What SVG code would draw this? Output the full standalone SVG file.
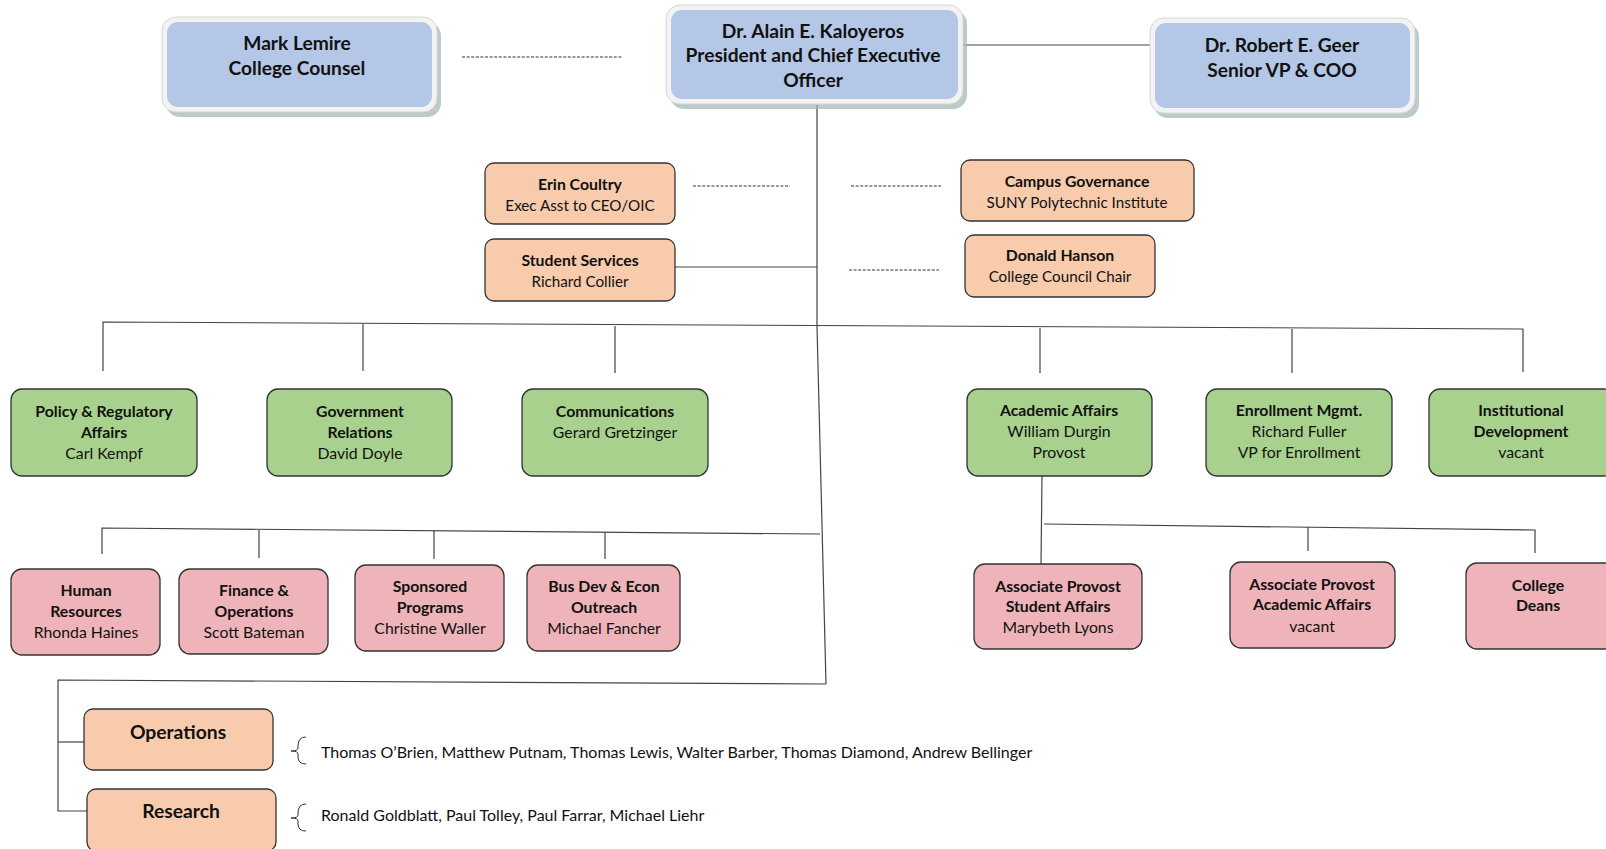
<svg xmlns="http://www.w3.org/2000/svg" width="1606" height="849" viewBox="0 0 1606 849">
<style>
text{font-family:Lato,"Open Sans","Liberation Sans",sans-serif;fill:#111;text-anchor:middle}
.b{font-weight:bold}
.t1{font-size:19.2px}
.t2{font-size:15.8px}
.t2o{font-size:15.2px}
.t3{font-size:16px;text-anchor:start}
.t4{font-size:19.3px}
.shadow{fill:#9fb4b4;opacity:.7}
.glow{fill:#f3f3f3;stroke:#d6d6d6;stroke-width:1}
.blue{fill:#b4c7e7}
.orange{fill:#f8cbad;stroke:#333;stroke-width:1.3}
.green{fill:#a9d18e;stroke:#333;stroke-width:1.3}
.pink{fill:#efb4b9;stroke:#333;stroke-width:1.3}
.ln{fill:none;stroke:#444;stroke-width:1.2}
.dash{fill:none;stroke:#333;stroke-width:1.1;stroke-dasharray:3 1.6}
.br{fill:none;stroke:#333;stroke-width:1}
</style>
<rect width="1606" height="849" fill="#fff"/>
<g id="connectors">
<line class="dash" x1="462" y1="57" x2="622" y2="57"/>
<line class="ln" x1="963" y1="45" x2="1151" y2="45"/>
<polyline class="ln" points="817,105 817,326 826,684"/>
<line class="dash" x1="693" y1="186" x2="790" y2="186"/>
<line class="dash" x1="851" y1="186" x2="941" y2="186"/>
<line class="ln" x1="675" y1="267" x2="817" y2="267"/>
<line class="dash" x1="849" y1="270" x2="939" y2="270"/>
<polyline class="ln" points="103,371 103,322 1523,329 1523,372"/>
<line class="ln" x1="363" y1="324" x2="363" y2="371"/>
<line class="ln" x1="615" y1="326" x2="615" y2="373"/>
<line class="ln" x1="1040" y1="328" x2="1040" y2="373"/>
<line class="ln" x1="1292" y1="329" x2="1292" y2="373"/>
<polyline class="ln" points="102,554 102,528 820,534"/>
<line class="ln" x1="259" y1="530" x2="259" y2="558"/>
<line class="ln" x1="434" y1="531" x2="434" y2="559"/>
<line class="ln" x1="605" y1="532" x2="605" y2="559"/>
<line class="ln" x1="1042" y1="476" x2="1041" y2="564"/>
<polyline class="ln" points="1044,524 1535,530 1535,553"/>
<line class="ln" x1="1308" y1="527" x2="1308" y2="551"/>
<polyline class="ln" points="826,684 58,680 58,811 87,811"/>
<line class="ln" x1="58" y1="742" x2="84" y2="742"/>
<path class="br" d="M306,737 Q298,737 298,746 L298,748 Q298,751 291,751 Q298,751 298,754 L298,757 Q298,764 306,764"/>
<path class="br" d="M306,804 Q298,804 298,813 L298,815 Q298,818 291,818 Q298,818 298,821 L298,824 Q298,831 306,831"/>
</g>
<g id="n-lemire">
<rect class="shadow" x="166" y="22" width="275" height="95" rx="14"/>
<rect class="glow" x="162" y="17" width="275" height="95" rx="14"/>
<rect class="blue" x="167" y="22" width="265" height="85" rx="11"/>
<text class="t1 b" x="297" y="50">Mark Lemire</text>
<text class="t1 b" x="297" y="75">College Counsel</text>
</g>
<g id="n-kaloyeros">
<rect class="shadow" x="670" y="10" width="297" height="99" rx="14"/>
<rect class="glow" x="666" y="5" width="297" height="99" rx="14"/>
<rect class="blue" x="671" y="10" width="287" height="89" rx="11"/>
<text class="t1 b" x="813" y="38">Dr. Alain E. Kaloyeros</text>
<text class="t1 b" x="813" y="62">President and Chief Executive</text>
<text class="t1 b" x="813" y="87">Officer</text>
</g>
<g id="n-geer">
<rect class="shadow" x="1154" y="23" width="265" height="95" rx="14"/>
<rect class="glow" x="1150" y="18" width="265" height="95" rx="14"/>
<rect class="blue" x="1155" y="23" width="255" height="85" rx="11"/>
<text class="t1 b" x="1282" y="52">Dr. Robert E. Geer</text>
<text class="t1 b" x="1282" y="77">Senior VP &amp; COO</text>
</g>
<g id="n-coultry">
<rect class="orange" x="485" y="163" width="190" height="61" rx="9"/>
<text class="t2 b" x="580" y="190">Erin Coultry</text>
<text class="t2o" x="580" y="211">Exec Asst to CEO/OIC</text>
</g>
<g id="n-campus">
<rect class="orange" x="961" y="160" width="233" height="61" rx="9"/>
<text class="t2 b" x="1077" y="187">Campus Governance</text>
<text class="t2o" x="1077" y="208">SUNY Polytechnic Institute</text>
</g>
<g id="n-student-services">
<rect class="orange" x="485" y="239" width="190" height="62" rx="9"/>
<text class="t2 b" x="580" y="266">Student Services</text>
<text class="t2o" x="580" y="287">Richard Collier</text>
</g>
<g id="n-hanson">
<rect class="orange" x="965" y="235" width="190" height="62" rx="9"/>
<text class="t2 b" x="1060" y="261">Donald Hanson</text>
<text class="t2o" x="1060" y="282">College Council Chair</text>
</g>
<g id="n-policy">
<rect class="green" x="11" y="389" width="186" height="87" rx="11"/>
<text class="t2 b" x="104" y="417">Policy &amp; Regulatory</text>
<text class="t2 b" x="104" y="438">Affairs</text>
<text class="t2" x="104" y="459">Carl Kempf</text>
</g>
<g id="n-government">
<rect class="green" x="267" y="389" width="185" height="87" rx="11"/>
<text class="t2 b" x="360" y="417">Government</text>
<text class="t2 b" x="360" y="438">Relations</text>
<text class="t2" x="360" y="459">David Doyle</text>
</g>
<g id="n-communications">
<rect class="green" x="522" y="389" width="186" height="87" rx="11"/>
<text class="t2 b" x="615" y="417">Communications</text>
<text class="t2" x="615" y="438">Gerard Gretzinger</text>
</g>
<g id="n-academic">
<rect class="green" x="967" y="389" width="185" height="87" rx="11"/>
<text class="t2 b" x="1059" y="416">Academic Affairs</text>
<text class="t2" x="1059" y="437">William Durgin</text>
<text class="t2" x="1059" y="458">Provost</text>
</g>
<g id="n-enrollment">
<rect class="green" x="1206" y="389" width="186" height="87" rx="11"/>
<text class="t2 b" x="1299" y="416">Enrollment Mgmt.</text>
<text class="t2" x="1299" y="437">Richard Fuller</text>
<text class="t2" x="1299" y="458">VP for Enrollment</text>
</g>
<g id="n-institutional">
<rect class="green" x="1429" y="389" width="186" height="87" rx="11"/>
<text class="t2 b" x="1521" y="416">Institutional</text>
<text class="t2 b" x="1521" y="437">Development</text>
<text class="t2" x="1521" y="458">vacant</text>
</g>
<g id="n-hr">
<rect class="pink" x="11" y="569" width="149" height="86" rx="11"/>
<text class="t2 b" x="86" y="596">Human</text>
<text class="t2 b" x="86" y="617">Resources</text>
<text class="t2" x="86" y="638">Rhonda Haines</text>
</g>
<g id="n-finance">
<rect class="pink" x="179" y="569" width="149" height="85" rx="11"/>
<text class="t2 b" x="254" y="596">Finance &amp;</text>
<text class="t2 b" x="254" y="617">Operations</text>
<text class="t2" x="254" y="638">Scott Bateman</text>
</g>
<g id="n-sponsored">
<rect class="pink" x="355" y="565" width="149" height="86" rx="11"/>
<text class="t2 b" x="430" y="592">Sponsored</text>
<text class="t2 b" x="430" y="613">Programs</text>
<text class="t2" x="430" y="634">Christine Waller</text>
</g>
<g id="n-busdev">
<rect class="pink" x="527" y="565" width="153" height="86" rx="11"/>
<text class="t2 b" x="604" y="592">Bus Dev &amp; Econ</text>
<text class="t2 b" x="604" y="613">Outreach</text>
<text class="t2" x="604" y="634">Michael Fancher</text>
</g>
<g id="n-ap-student">
<rect class="pink" x="974" y="564" width="168" height="85" rx="11"/>
<text class="t2 b" x="1058" y="592">Associate Provost</text>
<text class="t2 b" x="1058" y="612">Student Affairs</text>
<text class="t2" x="1058" y="633">Marybeth Lyons</text>
</g>
<g id="n-ap-academic">
<rect class="pink" x="1230" y="562" width="165" height="86" rx="11"/>
<text class="t2 b" x="1312" y="590">Associate Provost</text>
<text class="t2 b" x="1312" y="610">Academic Affairs</text>
<text class="t2" x="1312" y="632">vacant</text>
</g>
<g id="n-deans">
<rect class="pink" x="1466" y="563" width="150" height="86" rx="11"/>
<text class="t2 b" x="1538" y="591">College</text>
<text class="t2 b" x="1538" y="611">Deans</text>
</g>
<g id="n-operations">
<rect class="orange" x="84" y="709" width="189" height="61" rx="9"/>
<text class="t4 b" x="178" y="739">Operations</text>
</g>
<g id="n-research">
<rect class="orange" x="87" y="789" width="189" height="62" rx="9"/>
<text class="t4 b" x="181" y="818">Research</text>
</g>
<g id="lists">
<text class="t3" x="321" y="758">Thomas O’Brien, Matthew Putnam, Thomas Lewis, Walter Barber, Thomas Diamond, Andrew Bellinger</text>
<text class="t3" x="321" y="821">Ronald Goldblatt, Paul Tolley, Paul Farrar, Michael Liehr</text>
</g>
</svg>
